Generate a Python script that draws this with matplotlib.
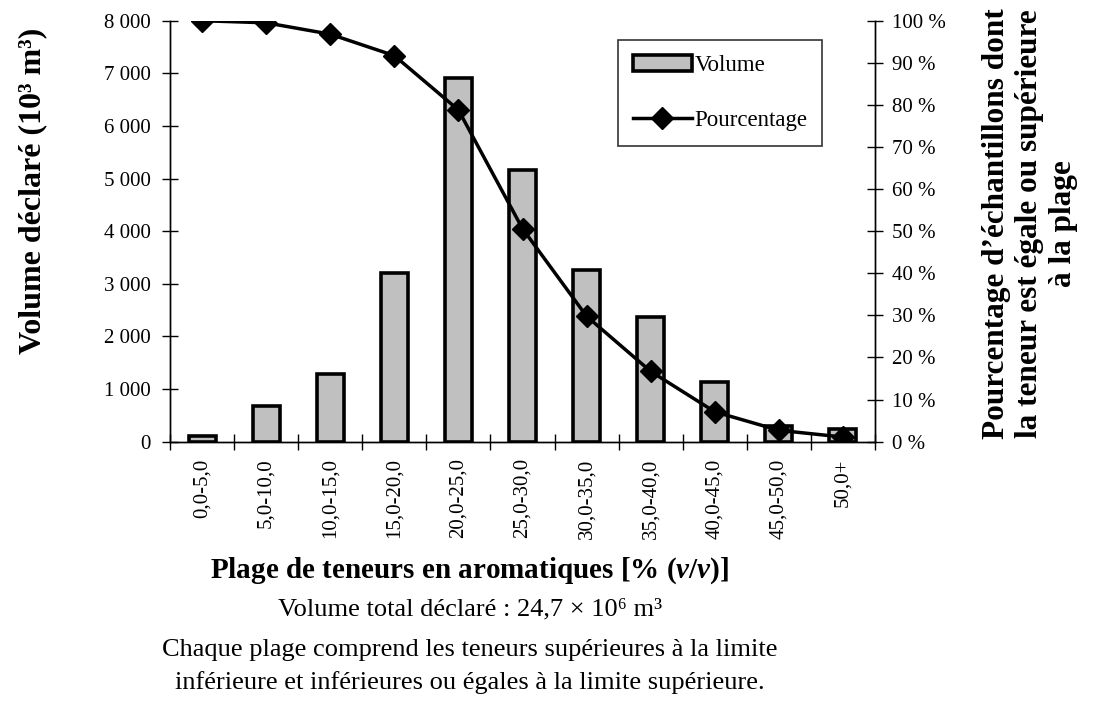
import numpy as np
import matplotlib.pyplot as plt
from matplotlib.ticker import FuncFormatter

plages = ['0,0-5,0', '5,0-10,0', '10,0-15,0', '15,0-20,0', '20,0-25,0',
          '25,0-30,0', '30,0-35,0', '35,0-40,0', '40,0-45,0', '45,0-50,0', '50,0+']
volume = [100, 670, 1280, 3200, 6920, 5160, 3270, 2360, 1140, 300, 250]
pourcentage = [100.0, 99.5, 96.8, 91.7, 78.8, 50.6, 29.8, 16.7, 7.1, 2.7, 1.1]

plt.rcParams['font.family'] = ['Liberation Serif', 'DejaVu Serif']
plt.rcParams['mathtext.fontset'] = 'custom'
plt.rcParams['mathtext.it'] = 'Liberation Serif:italic:bold'
plt.rcParams['mathtext.rm'] = 'Liberation Serif:bold'

fig = plt.figure(figsize=(10.93, 7.04), dpi=100)
ax = fig.add_axes([170 / 1093, 0.3726, 705 / 1093, 0.598])
ax2 = ax.twinx()

x = np.arange(len(plages))
ax.bar(x, volume, width=0.42, color='#c0c0c0', edgecolor='black', linewidth=2.6,
       label='Volume', zorder=2)
ax2.plot(x, pourcentage, color='black', linewidth=2.5, marker='D', markersize=11,
         label='Pourcentage', zorder=3)

ax.set_xlim(-0.5, len(plages) - 0.5)
ax.set_ylim(0, 8000)
ax2.set_ylim(0, 100)

ax.set_xticks(x)
ax.set_xticklabels(plages, rotation=90, fontsize=15)
ax.set_xticks(np.arange(-0.5, len(plages), 1), minor=True)
ax.tick_params(axis='x', which='major', length=0, pad=12)
ax.tick_params(axis='x', which='minor', direction='inout', length=12, width=1)

ax.set_yticks(np.arange(0, 8001, 1000))
ax.yaxis.set_major_formatter(FuncFormatter(lambda v, p: f'{int(v):,}'.replace(',', ' ')))
ax.tick_params(axis='y', direction='inout', length=12, width=1, labelsize=15, pad=8)

ax2.set_yticks(np.arange(0, 101, 10))
ax2.yaxis.set_major_formatter(FuncFormatter(lambda v, p: f'{int(v)} %'))
ax2.tick_params(axis='y', direction='inout', length=12, width=1, labelsize=15, pad=6)

for a in (ax, ax2):
    a.spines['top'].set_visible(False)
    for s in ('left', 'right', 'bottom'):
        a.spines[s].set_linewidth(1)

fig.text(33 / 1093, 1 - 191 / 704, 'Volume déclaré (10³ m³)', rotation=90,
         ha='center', va='center', fontsize=23, fontweight='bold')
fig.text(1030 / 1093, 1 - 224 / 704,
         "Pourcentage d\u2019échantillons dont\nla teneur est égale ou supérieure\nà la plage",
         rotation=90, ha='center', va='center', multialignment='center',
         fontsize=22.5, fontweight='bold', linespacing=1.22)

h1, l1 = ax.get_legend_handles_labels()
h2, l2 = ax2.get_legend_handles_labels()
leg = ax2.legend(h1 + h2, l1 + l2, loc='upper left', bbox_to_anchor=(0.635, 0.955),
                 fontsize=16.5, frameon=True, fancybox=False, edgecolor='black',
                 borderpad=0.65, labelspacing=1.5, handlelength=2.6, handletextpad=0.1,
                 borderaxespad=0)
leg.get_frame().set_linewidth(1.2)

fig.text(0.43, 0.19, 'Plage de teneurs en aromatiques [% ($\\mathit{v/v}$)]',
         ha='center', va='center', fontsize=21, fontweight='bold')
fig.text(0.43, 0.134, 'Volume total déclaré : 24,7 × 10⁶ m³',
         ha='center', va='center', fontsize=19)
fig.text(0.43, 0.077, 'Chaque plage comprend les teneurs supérieures à la limite',
         ha='center', va='center', fontsize=19)
fig.text(0.43, 0.03, 'inférieure et inférieures ou égales à la limite supérieure.',
         ha='center', va='center', fontsize=19)

plt.savefig('out.png', dpi=100)
